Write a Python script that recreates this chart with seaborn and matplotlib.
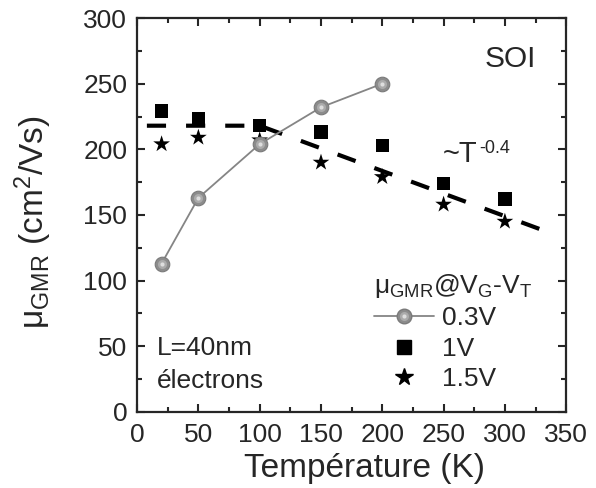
import numpy as np
import pandas as pd
import matplotlib
matplotlib.use("Agg")
import matplotlib.pyplot as plt
import seaborn as sns
from matplotlib.ticker import MultipleLocator

# datos
temp = [20, 50, 100, 150, 200, 250, 300]
mu_03 = [113, 163, 204, 232, 250]
mu_1 = [229, 223, 218, 213, 203, 174, 162]
mu_15 = [204, 209, 207, 190, 179, 158, 145]
fit_t = [8, 100, 335]
fit_mu = [218, 218, 137]

df03 = pd.DataFrame({'T': temp[:5], 'mu': mu_03})
df1 = pd.DataFrame({'T': temp, 'mu': mu_1})
df15 = pd.DataFrame({'T': temp, 'mu': mu_15})
dffit = pd.DataFrame({'T': fit_t, 'mu': fit_mu})

sns.set_style('ticks')
plt.rcParams['font.family'] = ['Liberation Sans', 'DejaVu Sans']
plt.rcParams['mathtext.fontset'] = 'custom'
plt.rcParams['mathtext.rm'] = 'Liberation Sans'
plt.rcParams['mathtext.it'] = 'Liberation Sans'

fig = plt.figure(figsize=(5.96, 4.88), dpi=100)
ax = fig.add_axes([0.230, 0.156, 0.720, 0.807])

# ajuste ~T^-0.4
sns.lineplot(data=dffit, x='T', y='mu', ax=ax, color='black', lw=3,
             zorder=2).lines[-1].set_dashes([4.6, 4.8])

# 0.3V : bolas grises
sns.lineplot(data=df03, x='T', y='mu', ax=ax, color='#858585', lw=1.3, zorder=3)
ax.plot(df03['T'], df03['mu'], 'o', ms=10.5, mfc='#8c8c8c', mec='#7a7a7a', mew=0.8, zorder=4)
ax.plot(df03['T'], df03['mu'], 'o', ms=6.5, mfc='#ababab', mec='none', zorder=5)
ax.plot(df03['T'], df03['mu'], 'o', ms=3, mfc='#dedede', mec='none', zorder=6)

# 1V : cuadrados, 1.5V : estrellas
sns.scatterplot(data=df1, x='T', y='mu', ax=ax, marker='s', s=95, color='black',
                edgecolor='none', zorder=3)
sns.scatterplot(data=df15, x='T', y='mu', ax=ax, marker='*', s=160, color='black',
                edgecolor='none', zorder=3)

ax.set_xlim(0, 350)
ax.set_ylim(0, 300)
ax.xaxis.set_major_locator(MultipleLocator(50))
ax.xaxis.set_minor_locator(MultipleLocator(25))
ax.yaxis.set_major_locator(MultipleLocator(50))
ax.yaxis.set_minor_locator(MultipleLocator(25))
ax.tick_params(which='both', direction='in', top=True, right=True, width=1.5,
               labelsize=19)
ax.tick_params(axis='x', pad=8)
ax.tick_params(axis='y', pad=7)
ax.tick_params(which='major', length=6)
ax.tick_params(which='minor', length=3.5)
for s in ax.spines.values():
    s.set_linewidth(1.6)
    s.set_visible(True)

ax.set_xlabel('Température (K)', fontsize=24)
ax.set_ylabel('μ$_{\\mathrm{GMR}}$ (cm$^{2}$/Vs)', fontsize=24)
ax.xaxis.set_label_coords(0.531, -0.105, transform=ax.transAxes)
ax.xaxis.label.set_va('top')
ax.yaxis.set_label_coords(-0.194, 0.482, transform=ax.transAxes)

ax.text(325, 263, 'SOI', fontsize=21.5, ha='right', va='baseline')
t_fit = ax.text(249.5, 190.5, '~T', fontsize=21, ha='left', va='baseline')
ax.text(16, 43, 'L=40nm', fontsize=19, ha='left', va='baseline')
ax.text(16, 18.5, 'électrons', fontsize=19, ha='left', va='baseline')

# exponente "-0.4" pegado a la T
fig.canvas.draw()
bb = t_fit.get_window_extent()
ax.annotate('-0.4', xy=(bb.x1, bb.y1), xycoords='figure pixels',
            xytext=(1, 0), textcoords='offset points',
            fontsize=13, ha='left', va='top')

# leyenda
h03 = (plt.Line2D([], [], color='#858585', lw=1.3),
       plt.Line2D([], [], ls='', marker='o', ms=10.5, mfc='#8c8c8c', mec='#7a7a7a'),
       plt.Line2D([], [], ls='', marker='o', ms=6.5, mfc='#ababab', mec='none'),
       plt.Line2D([], [], ls='', marker='o', ms=3, mfc='#dedede', mec='none'))
h1 = plt.Line2D([], [], ls='', marker='s', ms=9.5, color='black')
h15 = plt.Line2D([], [], ls='', marker='*', ms=13, color='black')
leg = ax.legend([h03, h1, h15], ['0.3V', '1V', '1.5V'],
                title='μ$_{\\mathrm{GMR}}$@V$_{\\mathrm{G}}$-V$_{\\mathrm{T}}$',
                loc='lower left', bbox_to_anchor=(0.508, 0.005), frameon=False,
                fontsize=19, title_fontsize=19, handlelength=2.3,
                handletextpad=0.3, labelspacing=0.25, borderpad=0.2)
leg._legend_box.align = 'left'

fig.savefig('out.png', dpi=100)
